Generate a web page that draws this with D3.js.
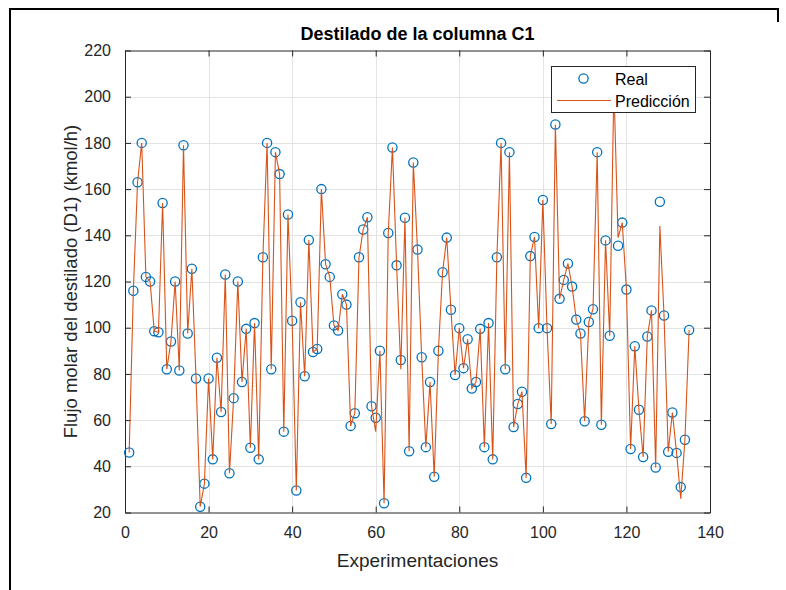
<!DOCTYPE html>
<html>
<head>
<meta charset="utf-8">
<script src="https://cdn.jsdelivr.net/npm/d3@7"></script>
<style>
  html, body { margin: 0; padding: 0; background: #fff; }
  svg { display: block; }
  text { font-family: "Liberation Sans", Arial, Helvetica, sans-serif; }
</style>
</head>
<body>
<svg id="chart" width="786" height="590"></svg>
<script>
// Destilado de la columna C1: measured vs. predicted distillate flow per experiment
const titleText = "Destilado de la columna C1";
const xLabelText = "Experimentaciones";
const yLabelText = "Flujo molar del destilado (D1) (kmol/h)";
const seriesNames = ["Real", "Predicción"];

const xTicks = [0, 20, 40, 60, 80, 100, 120, 140];
const yTicks = [20, 40, 60, 80, 100, 120, 140, 160, 180, 200, 220];

// Experiment number 1..135
const experiments = [
  1, 2, 3, 4, 5, 6, 7, 8, 9, 10, 11, 12, 13, 14, 15, 16, 17, 18, 19, 20,
  21, 22, 23, 24, 25, 26, 27, 28, 29, 30, 31, 32, 33, 34, 35, 36, 37, 38, 39, 40,
  41, 42, 43, 44, 45, 46, 47, 48, 49, 50, 51, 52, 53, 54, 55, 56, 57, 58, 59, 60,
  61, 62, 63, 64, 65, 66, 67, 68, 69, 70, 71, 72, 73, 74, 75, 76, 77, 78, 79, 80,
  81, 82, 83, 84, 85, 86, 87, 88, 89, 90, 91, 92, 93, 94, 95, 96, 97, 98, 99, 100,
  101, 102, 103, 104, 105, 106, 107, 108, 109, 110, 111, 112, 113, 114, 115, 116, 117, 118, 119, 120,
  121, 122, 123, 124, 125, 126, 127, 128, 129, 130, 131, 132, 133, 134, 135
];

// Measured distillate flow (kmol/h)
const realFlow = [
  46, 116, 163, 180, 122, 120, 98.5, 98, 154, 82, 94, 120, 81.5, 179, 97.5, 125.5, 78, 22.5, 32.5, 78,
  43, 87, 63.5, 123, 37, 69.5, 120, 76.5, 99.5, 48, 102, 43, 130.5, 180, 82, 176, 166.5, 55, 149, 103,
  29.5, 111, 79, 138, 89.5, 90.8, 160, 127.5, 122, 101, 98.8, 114.5, 110, 57.5, 63, 130.5, 142.5, 147.8, 66, 61,
  90, 24, 141, 178, 127, 86, 147.6, 46.5, 171.5, 133.8, 87.2, 48.3, 76.5, 35.5, 90, 124, 139, 107.8, 79.5, 99.8,
  82.5, 95, 73.7, 76.5, 99.5, 48.3, 102, 43, 130.5, 180, 82, 176, 57, 67, 72.3, 35, 131, 139.3, 99.8, 155.3,
  99.8, 58.3, 188, 112.5, 120.7, 127.8, 117.8, 103.5, 97.5, 59.5, 102.5, 108, 176, 58, 137.8, 96.5, 205, 135.5, 145.5, 116.5,
  47.5, 92, 64.5, 44, 96.2, 107.5, 39.5, 154.5, 105.3, 46.3, 63.3, 45.8, 31, 51.5, 99
];

// Model prediction (kmol/h)
const predictedFlow = [
  46, 116, 163, 180, 122, 120, 98.5, 98, 154, 82, 94, 120, 81.5, 179, 97.5, 125.5, 78, 22.5, 32.5, 78,
  43, 87, 63.5, 123, 37, 69.5, 120, 76.5, 99.5, 48, 102, 43, 130.5, 180, 82, 176, 166.5, 55, 149, 103,
  29.5, 111, 79, 138, 89.5, 90.8, 160, 127.5, 122, 101, 98.8, 114.5, 110, 57.5, 63, 130.5, 142.5, 147.8, 66, 55,
  90, 24, 141, 178, 127, 82, 147.6, 46.5, 171.5, 133.8, 87.2, 48.3, 76.5, 35.5, 90, 124, 139, 107.8, 79.5, 99.8,
  82.5, 95, 73.7, 76.5, 99.5, 48.3, 102, 43, 130.5, 180, 82, 176, 57, 67, 72.3, 35, 131, 139.3, 99.8, 155.3,
  99.8, 58.3, 188, 112.5, 120.7, 127.8, 117.8, 103.5, 97.5, 59.5, 102.5, 108, 176, 58, 137.8, 96.5, 205, 139, 145.5, 116.5,
  47.5, 92, 64.5, 44, 96.2, 107.5, 39.5, 144, 105.3, 46.3, 63.3, 45.8, 26, 51.5, 99
];

const svg = d3.select("#chart");
const W = 786, H = 590;
const plot = { left: 125, right: 710, top: 50.5, bottom: 512.5 };

const axisColor = "#262626";
const gridColor = "#e3e3e3";
const blue = "#0072BD";
const orange = "#D95319";

const x = d3.scaleLinear().domain([0, 140]).range([plot.left, plot.right]);
const y = d3.scaleLinear().domain([20, 220]).range([plot.bottom, plot.top]);

// Figure frame
svg.append("line").attr("x1", 10).attr("y1", 9).attr("x2", 778).attr("y2", 9)
  .attr("stroke", "#000").attr("stroke-width", 2);
svg.append("line").attr("x1", 10).attr("y1", 8).attr("x2", 10).attr("y2", H)
  .attr("stroke", "#000").attr("stroke-width", 2);
svg.append("line").attr("x1", 778).attr("y1", 8).attr("x2", 778).attr("y2", 22)
  .attr("stroke", "#000").attr("stroke-width", 2);

// Grid
const grid = svg.append("g");
grid.selectAll(".gx").data(xTicks.filter(d => d > 0 && d < 140)).join("line")
  .attr("x1", d => Math.round(x(d)) + 0.5).attr("x2", d => Math.round(x(d)) + 0.5)
  .attr("y1", plot.top).attr("y2", plot.bottom)
  .attr("stroke", gridColor).attr("stroke-width", 1);
grid.selectAll(".gy").data(yTicks.filter(d => d > 20 && d < 220)).join("line")
  .attr("x1", plot.left).attr("x2", plot.right)
  .attr("y1", d => Math.round(y(d)) + 0.5).attr("y2", d => Math.round(y(d)) + 0.5)
  .attr("stroke", gridColor).attr("stroke-width", 1);

// Axes with inward ticks on all four sides
const tickLen = 6;
const fmt = d3.format("d");
const styleAxis = g => {
  g.select(".domain").attr("stroke", axisColor).attr("stroke-width", 1);
  g.selectAll(".tick line").attr("stroke", axisColor).attr("stroke-width", 1);
  g.selectAll(".tick text").attr("fill", axisColor)
    .style("font-size", "16px")
    .style("font-family", "'Liberation Sans', Arial, sans-serif");
};

svg.append("g").attr("transform", `translate(0,${plot.bottom})`)
  .call(d3.axisBottom(x).tickValues(xTicks).tickFormat(fmt).tickSizeInner(-tickLen).tickSizeOuter(0).tickPadding(14))
  .call(styleAxis);
svg.append("g").attr("transform", `translate(0,${plot.top})`)
  .call(d3.axisTop(x).tickValues(xTicks).tickFormat("").tickSizeInner(-tickLen).tickSizeOuter(0))
  .call(styleAxis);
svg.append("g").attr("transform", `translate(${plot.left},0)`)
  .call(d3.axisLeft(y).tickValues(yTicks).tickFormat(fmt).tickSizeInner(-tickLen).tickSizeOuter(0).tickPadding(14))
  .call(styleAxis);
svg.append("g").attr("transform", `translate(${plot.right},0)`)
  .call(d3.axisRight(y).tickValues(yTicks).tickFormat("").tickSizeInner(-tickLen).tickSizeOuter(0))
  .call(styleAxis);

// Measured points (circles)
const rows = experiments.map((e, i) => ({ e, r: realFlow[i], p: predictedFlow[i] }));
svg.append("g").selectAll("circle").data(rows).join("circle")
  .attr("cx", d => x(d.e)).attr("cy", d => y(d.r)).attr("r", 4.6)
  .attr("fill", "none").attr("stroke", blue).attr("stroke-width", 1.3);

// Prediction line
svg.append("path").datum(rows)
  .attr("d", d3.line().x(d => x(d.e)).y(d => y(d.p)))
  .attr("fill", "none").attr("stroke", orange).attr("stroke-width", 1.1)
  .attr("stroke-linejoin", "miter");

// Title and axis labels
svg.append("text").attr("x", (plot.left + plot.right) / 2).attr("y", 40)
  .attr("text-anchor", "middle").attr("fill", "#000")
  .style("font-size", "18px").style("font-weight", "bold").text(titleText);
svg.append("text").attr("x", (plot.left + plot.right) / 2).attr("y", 567)
  .attr("text-anchor", "middle").attr("fill", axisColor)
  .style("font-size", "19px").text(xLabelText);
svg.append("text")
  .attr("transform", `translate(77,${(plot.top + plot.bottom) / 2}) rotate(-90)`)
  .attr("text-anchor", "middle").attr("fill", axisColor)
  .style("font-size", "18.5px").text(yLabelText);

// Legend (opaque, on top of the data)
const lg = { x: 551, y: 66, w: 144, h: 46 };
const legend = svg.append("g");
legend.append("rect").attr("x", lg.x + 0.5).attr("y", lg.y + 0.5).attr("width", lg.w).attr("height", lg.h)
  .attr("fill", "#fff").attr("stroke", axisColor).attr("stroke-width", 1);
legend.append("circle").attr("cx", 583.5).attr("cy", 78.5).attr("r", 4.6)
  .attr("fill", "none").attr("stroke", blue).attr("stroke-width", 1.3);
legend.append("line").attr("x1", 557).attr("x2", 611).attr("y1", 100.5).attr("y2", 100.5)
  .attr("stroke", orange).attr("stroke-width", 1.1);
legend.selectAll("text.lt").data(seriesNames).join("text")
  .attr("x", 615).attr("y", (d, i) => 84.5 + i * 22)
  .attr("fill", "#000").style("font-size", "16px").text(d => d);
</script>
</body>
</html>
